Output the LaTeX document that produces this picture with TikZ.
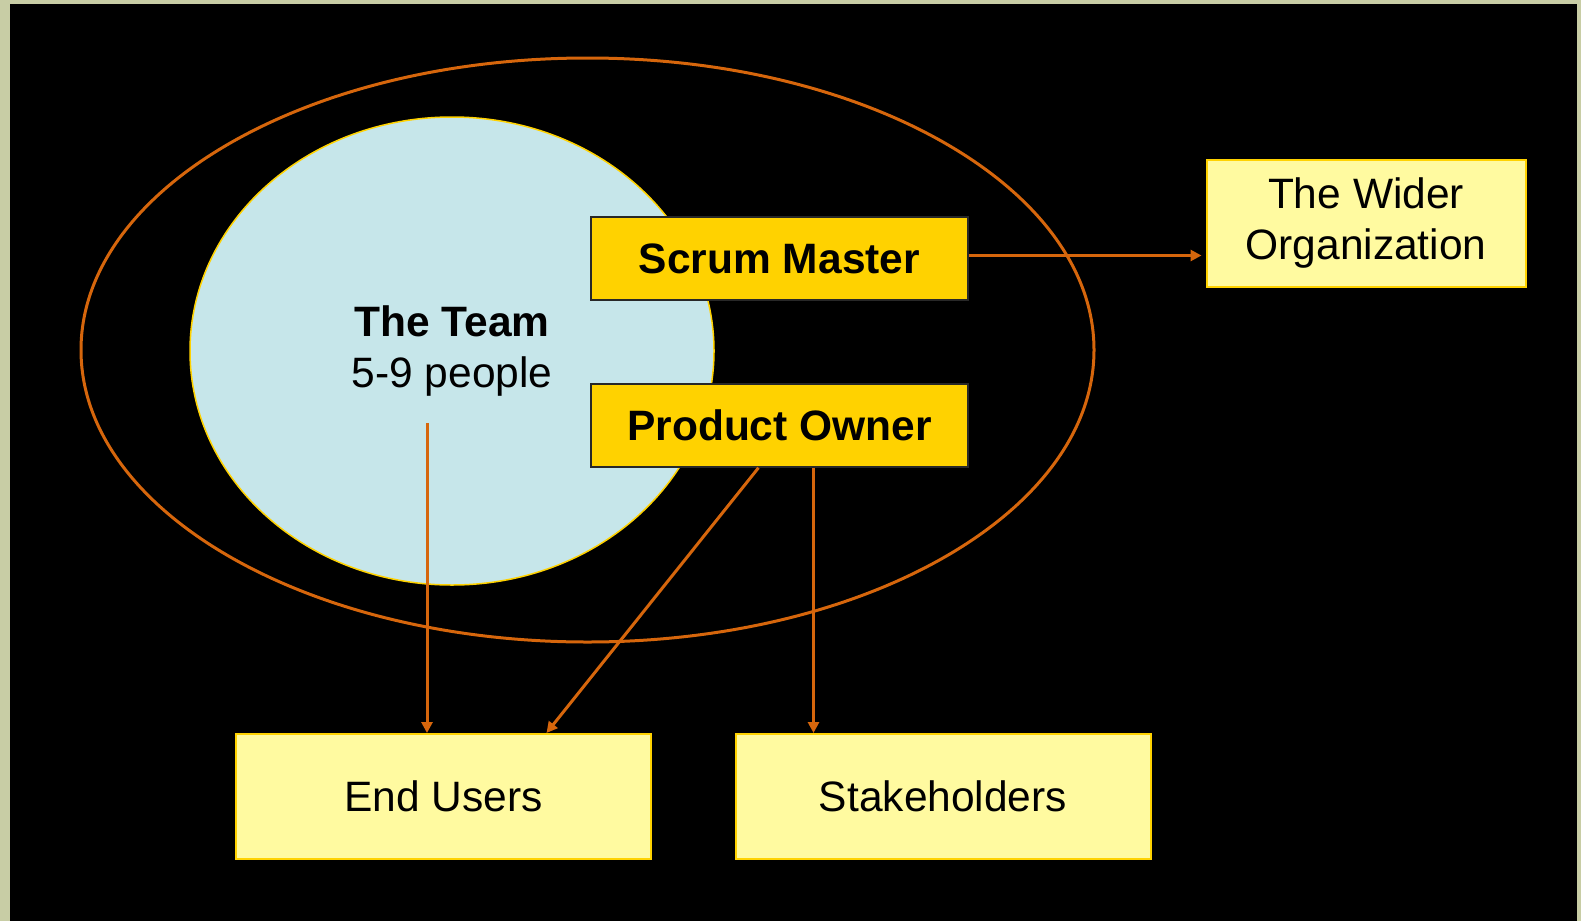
\documentclass[tikz,border=0pt]{standalone}
\usepackage{fontspec}
\setmainfont{Liberation Sans}
\usetikzlibrary{shapes.geometric,arrows.meta}

\definecolor{frame}{RGB}{200,205,165}
\definecolor{rim}{RGB}{214,102,12}
\definecolor{teamblue}{RGB}{198,230,234}
\definecolor{gold}{RGB}{255,210,0}
\definecolor{paleyellow}{RGB}{255,250,160}

\newcommand{\bigtext}{\fontsize{42.5}{51}\selectfont}

\begin{document}
\begin{tikzpicture}[x=1pt,y=-1pt,
    role/.style={draw={rgb,255:red,40;green,40;blue,40}, line width=1.5pt, fill=gold,
        minimum width=377pt, minimum height=83pt, inner sep=0pt, font=\bigtext\bfseries},
    party/.style={draw=gold, line width=2pt, fill=paleyellow, align=center,
        minimum width=415pt, minimum height=125pt, inner sep=0pt, font=\bigtext},
    flow/.style={rim, line width=3pt, -{Triangle[length=11pt,width=11pt]}}]
    \useasboundingbox (0,0) rectangle (1581,921);
    % slide background with the light edge on the left
    \fill[frame] (0,0) rectangle (1581,921);
    \fill[black] (10,4) rectangle (1577,921);

    % outer ring round the scrum team
    \draw[rim, line width=3pt] (587.5,350) ellipse [x radius=506.5, y radius=292];

    \node[ellipse, fill=teamblue, draw=gold, line width=1.5pt, inner sep=0pt,
        minimum width=524pt, minimum height=468pt, align=center, font=\bigtext]
        (team) at (452,351) {\textbf{The Team}\\5-9 people};
    \coordinate (teamfoot) at (427,423);

    \node[role] (sm) at (779.5,258.5) {Scrum Master};
    \node[role] (po) at (779.5,425.5) {Product Owner};

    \node[party, minimum width=319pt, minimum height=127pt] (org) at (1366,223) {The Wider\\Organization};
    \node[party] (eu) at (443.5,796.5) {End Users};
    \node[party] (sh) at (943,796.5) {Stakeholders};

    % who talks to whom
    \draw[flow, shorten >=4pt] ([yshift=3pt]sm.east) -- ([yshift=3pt]sm.east -| org.west);
    \draw[flow] (teamfoot) -- (teamfoot |- eu.north);
    \draw[flow] ([xshift=-21pt]po.south) -- ([xshift=103pt]eu.north);
    \draw[flow] ([xshift=34pt]po.south) -- ([xshift=34pt]po.south |- sh.north);
\end{tikzpicture}
\end{document}
